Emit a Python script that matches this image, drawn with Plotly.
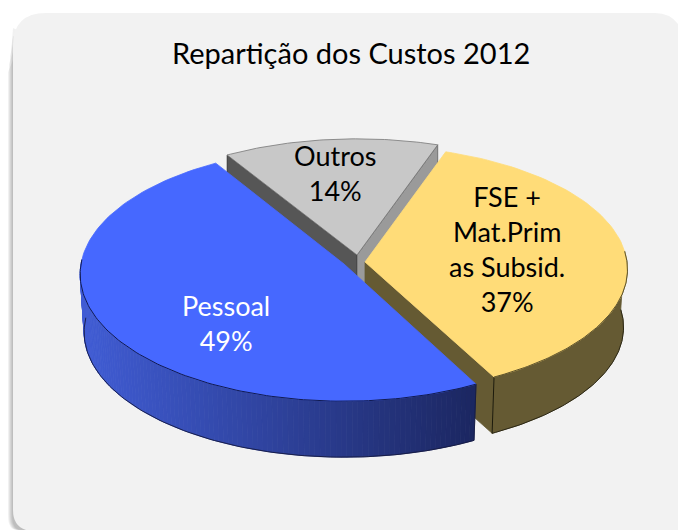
import math
import plotly.graph_objects as go

# ---- data ----
categories = ["FSE + Mat.Primas Subsid.", "Pessoal", "Outros"]
values = [37, 49, 14]
label_lines = [["FSE +", "Mat.Prim", "as Subsid."], ["Pessoal"], ["Outros"]]
title_text = "Repartição dos Custos 2012"

# ---- style / projection ----
W, H = 678, 530
START = 19.0
DEPTH = 58
BOTTOM_SCALE = 0.985
tilt = [0.47, 0.48, 0.47]
persp = [0.06, 0.08, 0.06]
apex = [(365, 262), (344, 264), (357, 255)]
radius = [262, 263, 262]
top_col = ["#ffdc78", "#4668ff", "#c8c8c8"]
label_col = ["#000000", "#ffffff", "#000000"]
label_pos = [(507, 249), (226, 323), (335, 173)]


def proj(i, theta, r=1.0, drop=0):
    t = math.radians(theta)
    R = radius[i] * r * (BOTTOM_SCALE if drop else 1)
    p = 1 / (1 + persp[i] * r * math.cos(t))
    return apex[i][0] + R * math.sin(t) * p, apex[i][1] - R * math.cos(t) * tilt[i] * p + drop


def poly(fig, pts, fill, line=None, lw=0.0):
    xs = [q[0] for q in pts] + [pts[0][0]]
    ys = [q[1] for q in pts] + [pts[0][1]]
    fig.add_trace(go.Scatter(x=xs, y=ys, mode="lines", fill="toself", fillcolor=fill,
                             line=dict(color=line or fill, width=lw if line else 0.8),
                             hoverinfo="skip", showlegend=False))


def path(fig, pts, color, lw=1.0):
    fig.add_trace(go.Scatter(x=[q[0] for q in pts], y=[q[1] for q in pts], mode="lines",
                             line=dict(color=color, width=lw), hoverinfo="skip", showlegend=False))


def lerp(c0, c1, f):
    return "rgb(%d,%d,%d)" % tuple(round(a + (b - a) * f) for a, b in zip(c0, c1))


# slice angles from the values
total = sum(values)
angles = []
a0 = START
for v in values:
    a1 = a0 + 360 * v / total
    angles.append((a0, a1))
    a0 = a1

fig = go.Figure()

# soft shadow left of the panel, then the panel
for d, y0 in [(5, 72), (4, 64), (3, 56), (2, 48), (1, 40)]:
    fig.add_shape(type="path", layer="below", line=dict(width=0), fillcolor="#000000", opacity=0.055,
                  path=f"M 13 {y0 - 12} L {13 - d} {y0} L {13 - d} 515 Q {13 - d} 530 {22 - d} 530 L 40 530 L 40 {y0} Z")
fig.add_shape(type="path", layer="below", line=dict(width=0), fillcolor="#f2f2f2",
              path="M 26 530 Q 13 526 13 510 L 13 46 Q 13 13 46 13 L 655 13 Q 670 13 678 24 L 678 530 Z")

# grey slice
g = 2
ga0, ga1 = angles[g]
apx = proj(g, 0, 0)
pL, pR = proj(g, ga0), proj(g, ga1)
poly(fig, [pL, apx, (apx[0], apx[1] + DEPTH), (pL[0], pL[1] + DEPTH)], "#565656", "#222222", 0.7)
poly(fig, [pR, apx, (apx[0], apx[1] + DEPTH), (pR[0], pR[1] + DEPTH)], "#9a9a9a", "#555555", 0.7)
arc = [proj(g, ga0 + (ga1 - ga0) * j / 60) for j in range(61)]
poly(fig, [apx] + arc, top_col[g], "#777777", 0.8)

# yellow slice
y = 0
ya0, ya1 = angles[y]
apx = proj(y, 0, 0)
end = proj(y, ya1)
endb = proj(y, ya1, drop=DEPTH)
poly(fig, [apx, end, endb, (apx[0], apx[1] + DEPTH)], "#655a33")
vis0 = 85
outer = [proj(y, vis0 + (ya1 - vis0) * j / 80) for j in range(81)]
outerb = [proj(y, vis0 + (ya1 - vis0) * j / 80, drop=DEPTH) for j in range(81)]
poly(fig, outer + outerb[::-1], "#655a33")
path(fig, outerb, "#2a2614", 1.0)
path(fig, [end, endb], "#1c1a0c", 1.0)
arc = [proj(y, ya0 + (ya1 - ya0) * j / 80) for j in range(81)]
poly(fig, [apx] + arc, top_col[y])
path(fig, [proj(y, vis0 + (ya1 - vis0) * j / 80) for j in range(81)], "#3a3418", 0.8)

# blue slice: wall with a horizontal gradient
b = 1
ba0, ba1 = angles[b]
N = 110
vis1 = 272
xs_left = proj(b, vis1)[0]
xs_right = proj(b, ba0)[0]
c_left, c_right = (64, 92, 212), (27, 38, 96)
for j in range(N):
    t0 = vis1 + (ba0 - vis1) * j / N
    t1 = vis1 + (ba0 - vis1) * (j + 1) / N
    q = [proj(b, t0), proj(b, t1), proj(b, t1, drop=DEPTH), proj(b, t0, drop=DEPTH)]
    f = (q[0][0] - xs_left) / (xs_right - xs_left)
    poly(fig, q, lerp(c_left, c_right, f))
outerb = [proj(b, vis1 + (ba0 - vis1) * j / N, drop=DEPTH) for j in range(N + 1)]
path(fig, outerb, "#14193f", 0.9)
endp, endb = proj(b, ba0), proj(b, ba0, drop=DEPTH)
path(fig, [endp, endb], "#14193f", 0.8)
arc = [proj(b, ba0 + (ba1 - ba0) * j / 120) for j in range(121)]
poly(fig, [proj(b, 0, 0)] + arc, top_col[b])
path(fig, [proj(b, vis1 + (ba0 - vis1) * j / N) for j in range(N + 1)], "#101a50", 1.0)

# labels
FONT = "Lato, Carlito, Calibri, sans-serif"
fig.add_annotation(x=351, y=52, text=title_text, showarrow=False, xref="x", yref="y",
                   font=dict(family=FONT, size=29, color="#000000"))
for i, lines in enumerate(label_lines):
    txt = "<br>".join(lines + [f"{round(100 * values[i] / total)}%"])
    fig.add_annotation(x=label_pos[i][0], y=label_pos[i][1], text=txt, showarrow=False,
                       xref="x", yref="y", align="center",
                       font=dict(family=FONT, size=27, color=label_col[i]))

fig.update_layout(width=W, height=H, margin=dict(l=0, r=0, t=0, b=0),
                  paper_bgcolor="#ffffff", plot_bgcolor="rgba(0,0,0,0)", showlegend=False,
                  xaxis=dict(range=[0, W], visible=False, fixedrange=True),
                  yaxis=dict(range=[H, 0], visible=False, fixedrange=True))
fig.write_html("out.html", config={"displayModeBar": False},
               post_script="document.body.style.margin='0';document.body.style.overflow='hidden';")
